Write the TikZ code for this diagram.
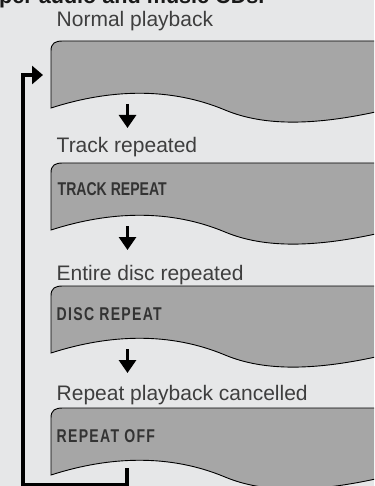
\documentclass[tikz,border=0pt]{standalone}
\usepackage{fontspec}
\setmainfont{Liberation Sans}
\newfontfamily\lcdfont[FakeStretch=0.76]{Liberation Sans}
\newfontfamily\lcdwide[FakeStretch=0.76,LetterSpace=7]{Liberation Sans}
\usetikzlibrary{arrows.meta}
\definecolor{panel}{RGB}{230,231,232}
\definecolor{lcdgray}{RGB}{166,166,166}
\definecolor{ink}{RGB}{62,62,62}
\tikzset{
	caption/.style={anchor=base west,inner sep=0pt,text=ink,font=\fontsize{21}{24}\selectfont},
	lcdtext/.style={anchor=base west,inner sep=0pt,text=black!80,font=\lcdfont\bfseries\fontsize{18.5}{20}\selectfont},
	lcdspaced/.style={lcdtext,font=\lcdwide\bfseries\fontsize{18.5}{20}\selectfont},
	down/.style={-{Triangle[width=17pt,length=13pt]},line width=3pt},
	loopline/.style={-{Triangle[width=18pt,length=11pt]},line width=3.5pt}
}
\begin{document}
\begin{tikzpicture}[x=1pt,y=-1pt]
		\useasboundingbox (0,0) rectangle (374,486);\fill[panel] (0,0) rectangle (374,486);\clip (0,0) rectangle (374,486);
		\node[anchor=base west,inner sep=0pt,text=black!90,font=\bfseries\fontsize{21.6}{24}\selectfont] (title) at (-1,3.5) {per audio and music CDs.};
		% display panels
		\foreach \t in {41,163,286,408}{
			\filldraw[fill=lcdgray,draw=black,line width=0.9pt] (51,\t+67) -- (51,\t+10) .. controls (51,\t+2) and (55,\t) .. (63,\t) -- (380,\t) -- (380,\t+70) .. controls (300,\t+88) and (255,\t+81.5) .. (225,\t+69) .. controls (170,\t+46) and (110,\t+48) .. (51,\t+67) -- cycle;
		}
		\node[caption] (normal) at (56.5,27) {Normal playback};\node[caption] (track) at (56.5,153) {Track repeated};
		\node[caption] (disc) at (56.5,280) {Entire disc repeated};\node[caption] (cancel) at (56.5,400) {Repeat playback cancelled};
		\node[lcdtext] (trackrep) at (57.5,195) {TRACK REPEAT};\node[lcdspaced] (discrep) at (56.5,320) {DISC REPEAT};\node[lcdspaced] (repoff) at (56.5,442) {REPEAT OFF};
		% step arrows
		\coordinate (s1) at (127.5,104);\coordinate (e1) at (127.5,128);\coordinate (s2) at (127.5,226);\coordinate (e2) at (127.5,250);
		\coordinate (s3) at (127.5,349);\coordinate (e3) at (127.5,373);
		\draw[down] (s1) -- (e1);\draw[down] (s2) -- (e2);\draw[down] (s3) -- (e3);
		% back to normal playback
		\coordinate (off) at (126.8,468);\coordinate (turn) at (23,485.2);\coordinate (back) at (43,75);
		\draw[loopline] (off) |- (turn) |- (back);
	\end{tikzpicture}
\end{document}
